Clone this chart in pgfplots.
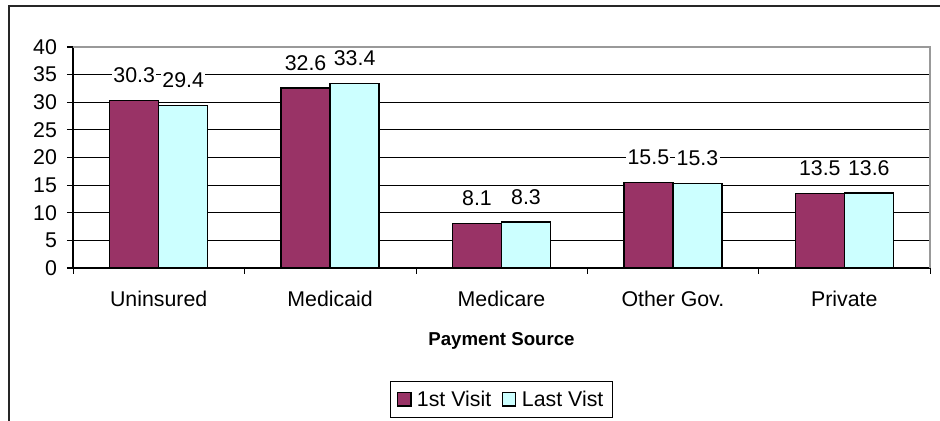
\documentclass[border=0pt]{standalone}
\usepackage{pgfplots}
\pgfplotsset{compat=1.18}
\usepackage{fontspec}
\setmainfont{Liberation Sans}
\definecolor{plum}{HTML}{993366}
\definecolor{lcyan}{HTML}{CCFFFF}
\newlength\px
\setlength\px{0.75pt}
\begin{document}
\begin{tikzpicture}
\begin{axis}[
  scale only axis,
  width=857\px, height=221\px,
  xmin=-0.5, xmax=4.5,
  ymin=0, ymax=40,
  ybar=0pt,
  bar width=0.286,
  /pgf/number format/assume math mode=true,
  /pgf/number format/fixed,
  /pgf/number format/precision=1,
  xtick={0,1,2,3,4},
  xticklabels={Uninsured,Medicaid,Medicare,Other Gov.,Private},
  minor xtick={-0.5,0.5,1.5,2.5,3.5,4.5},
  major x tick style={draw=none},
  minor x tick style={black},
  minor tick length=4.5pt,
  ytick={0,5,...,40},
  major tick length=4.5pt,
  tick align=outside,
  ymajorgrids,
  major grid style={black, line width=0.6pt},
  axis x line*=bottom,
  axis y line*=left,
  axis line style={black, line width=0.8pt, -},
  y tick style={black, line width=0.8pt},
  ticklabel style={font=\fontsize{16}{18}\selectfont},
  yticklabel style={xshift=-4pt},
  xticklabel style={yshift=-9.5pt},
  xlabel={\textbf{Payment Source}},
  xlabel style={font=\fontsize{14}{16}\selectfont, at={(axis description cs:0.5,-0.33)}, anchor=center},
  nodes near coords,
  every node near coord/.append style={font=\fontsize{16}{18}\selectfont, anchor=center, yshift=18.75pt, fill=white, inner sep=1pt, text=black},
  legend style={at={(axis description cs:0.5,-0.511)}, anchor=north, legend columns=2, draw=black, line width=0.6pt, font=\fontsize{16}{18}\selectfont, inner xsep=5pt, inner ysep=5pt, /tikz/every even column/.append style={column sep=6pt}},
  legend image code/.code={\draw[#1, draw=black, line width=0.9pt] (1pt,-5pt) rectangle (11pt,5pt); \path (13pt,0pt);},
  clip=false,
]
\addplot[fill=plum, draw=black, line width=1.1pt] coordinates {(0,30.3) (1,32.6) (2,8.1) (3,15.5) (4,13.5)};
\addplot[fill=lcyan, draw=black, line width=1.1pt] coordinates {(0,29.4) (1,33.4) (2,8.3) (3,15.3) (4,13.6)};
\legend{1st Visit, Last Vist}
\draw[gray!80, line width=1.1pt] (rel axis cs:0,1) -- (rel axis cs:1,1) -- (rel axis cs:1,0);
\coordinate (O) at (rel axis cs:0,0);
\end{axis}
\draw[black!85, line width=0.8pt] ([shift={(867\px,262\px)}]O) -- ([shift={(-64\px,262\px)}]O) -- ([shift={(-64\px,-153\px)}]O);
\pgfresetboundingbox
\path ([shift={(-73\px,-153\px)}]O) rectangle ([shift={(867\px,268\px)}]O);
\end{tikzpicture}
\end{document}
